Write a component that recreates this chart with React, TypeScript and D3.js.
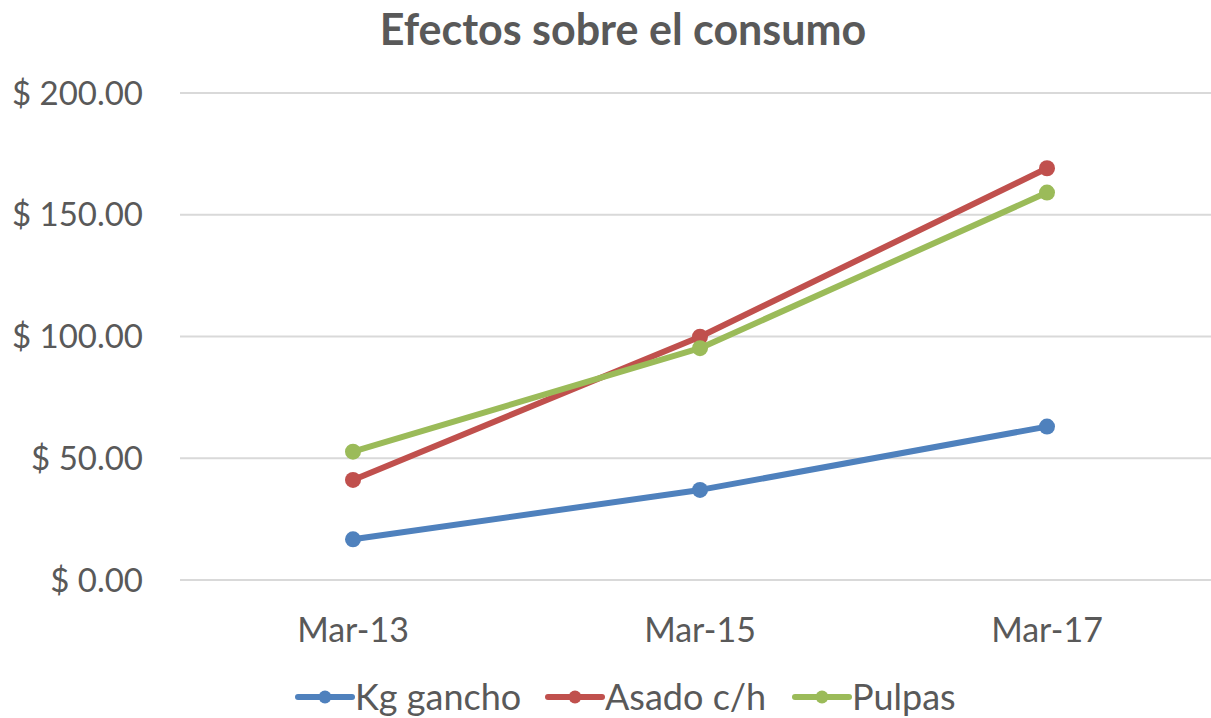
import React, { useEffect } from 'react';
import * as d3 from 'd3';

// Chart data
const categories = ['Mar-13', 'Mar-15', 'Mar-17'];
const seriesNames = ['Kg gancho', 'Asado c/h', 'Pulpas'];
const kgGancho = [16.7, 37.0, 63.0];
const asado = [41.1, 99.9, 169.1];
const pulpas = [52.7, 95.2, 159.1];
const yTicks = [0, 50, 100, 150, 200];
const colors = ['#4F81BD', '#C0504D', '#9BBB59'];

const W = 1211;
const H = 718;
const FONT = 'Lato, "Open Sans", sans-serif';

const App: React.FC = () => {
  useEffect(() => {
    document.body.style.margin = '0';
  }, []);

  const x = d3.scalePoint<string>().domain(categories).range([179.5, 1220.5]).padding(0.5);
  const y = d3.scaleLinear().domain([0, 200]).range([580, 93]);

  const series = [kgGancho, asado, pulpas].map((values, i) => ({
    name: seriesNames[i],
    color: colors[i],
    points: values.map((v, j) => ({ cat: categories[j], v })),
  }));

  const line = d3
    .line<{ cat: string; v: number }>()
    .x((d) => x(d.cat) as number)
    .y((d) => y(d.v));

  const fmt = (v: number) => '$ ' + d3.format('.2f')(v);

  // legend positions (start x of each entry's marker)
  const legendX = [298, 548, 795];

  return (
    <svg width={W} height={H} style={{ display: 'block', background: '#fff' }} fontFamily={FONT}>
      <text x={623} y={45} textAnchor="middle" fontSize={43} fontWeight="bold" fill="#595959">
        Efectos sobre el consumo
      </text>

      {/* gridlines */}
      <g>
        {yTicks.map((t) => (
          <line key={t} x1={180} x2={W} y1={y(t)} y2={y(t)} stroke="#D9D9D9" strokeWidth={2} />
        ))}
      </g>

      {/* y labels */}
      <g>
        {yTicks.map((t) => (
          <text key={t} x={143} y={y(t)} dy="0.35em" textAnchor="end" fontSize={33} fill="#595959">
            {fmt(t)}
          </text>
        ))}
      </g>

      {/* x labels */}
      <g>
        {categories.map((c) => (
          <text key={c} x={x(c)} y={642} textAnchor="middle" fontSize={34} fill="#595959">
            {c}
          </text>
        ))}
      </g>

      {/* series */}
      {series.map((s) => (
        <g key={s.name}>
          <path d={line(s.points) || ''} fill="none" stroke={s.color} strokeWidth={6} strokeLinejoin="round" strokeLinecap="round" />
          {s.points.map((p) => (
            <circle key={p.cat} cx={x(p.cat)} cy={y(p.v)} r={8} fill={s.color} />
          ))}
        </g>
      ))}

      {/* legend */}
      <g>
        {series.map((s, i) => (
          <g key={s.name} transform={`translate(${legendX[i]},697)`}>
            <line x1={0} x2={54} y1={0} y2={0} stroke={s.color} strokeWidth={6} strokeLinecap="round" />
            <circle cx={27} cy={0} r={6.5} fill={s.color} />
            <text x={57} y={0} dy="0.35em" fontSize={36} fill="#595959">
              {s.name}
            </text>
          </g>
        ))}
      </g>
    </svg>
  );
};

export default App;
